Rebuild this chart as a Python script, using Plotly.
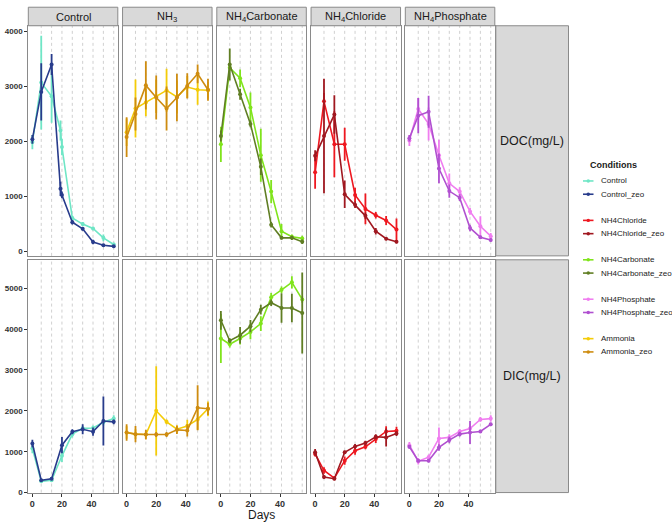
import plotly.graph_objects as go

W, H = 672, 526

# ---------------- data ----------------
days = [0, 6, 13, 20, 27, 34, 41, 48, 55]
days_ctrl_doc = [0, 6, 13, 19, 20, 27, 34, 41, 48, 55]
sample_days = [6, 13, 20, 27, 34, 41, 48, 55]

panel_titles = ["Control", "NH<sub>3</sub>", "NH<sub>4</sub>Carbonate",
                "NH<sub>4</sub>Chloride", "NH<sub>4</sub>Phosphate"]
panel_series = [["Control", "Control_zeo"],
                ["Ammonia", "Ammonia_zeo"],
                ["NH4Carbonate", "NH4Carbonate_zeo"],
                ["NH4Chloride", "NH4Chloride_zeo"],
                ["NH4Phosphate", "NH4Phosphate_zeo"]]
row_labels = ["DOC(mg/L)", "DIC(mg/L)"]

legend_order = ["Control", "Control_zeo", None,
                "NH4Chloride", "NH4Chloride_zeo", None,
                "NH4Carbonate", "NH4Carbonate_zeo", None,
                "NH4Phosphate", "NH4Phosphate_zeo", None,
                "Ammonia", "Ammonia_zeo"]

colors = {
    "Control": "#6FE6C6", "Control_zeo": "#283C8C",
    "NH4Chloride": "#EE1820", "NH4Chloride_zeo": "#A01820",
    "NH4Carbonate": "#80E41C", "NH4Carbonate_zeo": "#607E24",
    "NH4Phosphate": "#F07EF0", "NH4Phosphate_zeo": "#B050D0",
    "Ammonia": "#F4CC08", "Ammonia_zeo": "#CE8C10",
}

DOC = {
    "Control": [1990, 3070, 2820, 2200, 1900, 610, 500, 420, 250, 130],
    "Control_zeo": [2040, 2900, 3400, 1140, 1030, 534, 414, 175, 115, 95],
    "Ammonia": [2170, 2600, 2710, 2820, 2930, 2810, 2990, 2940, 2930],
    "Ammonia_zeo": [2080, 2500, 3020, 2800, 2600, 2800, 3010, 3230, 2940],
    "NH4Carbonate": [1950, 3340, 3150, 2620, 1750, 1090, 370, 270, 240],
    "NH4Carbonate_zeo": [2100, 3400, 2860, 2320, 1540, 490, 250, 250, 180],
    "NH4Chloride": [1440, 2730, 1950, 1950, 1030, 775, 660, 565, 400],
    "NH4Chloride_zeo": [1740, 2100, 2490, 1040, 850, 650, 370, 235, 180],
    "NH4Phosphate": [2020, 2590, 2320, 1750, 1240, 1090, 730, 460, 280],
    "NH4Phosphate_zeo": [2060, 2470, 2540, 1510, 1100, 980, 430, 260, 210],
}
DOC_SE = {
    "Control": [130, 850, 480, 180, 150, 40, 40, 30, 60, 30],
    "Control_zeo": [80, 520, 190, 130, 60, 40, 30, 40, 20, 20],
    "Ammonia": [250, 525, 250, 300, 390, 300, 200, 270, 150],
    "Ammonia_zeo": [360, 300, 440, 400, 400, 430, 230, 170, 200],
    "NH4Carbonate": [320, 60, 160, 270, 480, 210, 130, 40, 50],
    "NH4Carbonate_zeo": [100, 290, 100, 60, 150, 50, 30, 40, 40],
    "NH4Chloride": [300, 150, 600, 300, 130, 280, 60, 80, 200],
    "NH4Chloride_zeo": [100, 1040, 350, 250, 60, 60, 60, 30, 30],
    "NH4Phosphate": [100, 200, 300, 280, 180, 80, 60, 180, 60],
    "NH4Phosphate_zeo": [60, 320, 290, 270, 120, 60, 60, 30, 30],
}
DIC = {
    "Control": [1080, 275, 300, 900, 1430, 1570, 1580, 1720, 1810],
    "Control_zeo": [1200, 300, 340, 1160, 1490, 1550, 1490, 1750, 1730],
    "Ammonia": [1470, 1430, 1420, 2000, 1730, 1550, 1630, 1790, 2050],
    "Ammonia_zeo": [1470, 1430, 1420, 1420, 1420, 1535, 1520, 2075, 2050],
    "NH4Carbonate": [3770, 3630, 3770, 3930, 4135, 4780, 4960, 5145, 4725],
    "NH4Carbonate_zeo": [4215, 3715, 3850, 4070, 4475, 4645, 4515, 4515, 4395],
    "NH4Chloride": [945, 540, 355, 780, 1025, 1120, 1310, 1495, 1510],
    "NH4Chloride_zeo": [985, 380, 340, 985, 1130, 1210, 1365, 1350, 1445],
    "NH4Phosphate": [1160, 765, 865, 1325, 1350, 1495, 1565, 1790, 1810],
    "NH4Phosphate_zeo": [1120, 780, 780, 1105, 1285, 1430, 1470, 1495, 1670],
}
DIC_SE = {
    "Control": [120, 40, 40, 150, 80, 60, 60, 80, 80],
    "Control_zeo": [90, 30, 40, 200, 60, 120, 100, 600, 60],
    "Ammonia": [150, 120, 100, 1090, 60, 100, 150, 250, 180],
    "Ammonia_zeo": [200, 200, 120, 60, 60, 100, 150, 550, 150],
    "NH4Carbonate": [600, 80, 150, 180, 180, 100, 80, 150, 80],
    "NH4Carbonate_zeo": [230, 60, 200, 150, 120, 80, 360, 350, 990],
    "NH4Chloride": [60, 80, 40, 100, 100, 60, 100, 130, 100],
    "NH4Chloride_zeo": [80, 40, 40, 40, 60, 60, 60, 220, 60],
    "NH4Phosphate": [80, 80, 60, 270, 80, 60, 60, 60, 80],
    "NH4Phosphate_zeo": [40, 40, 40, 80, 80, 60, 280, 40, 40],
}

doc_ticks = [0, 1000, 2000, 3000, 4000]
dic_ticks = [0, 1000, 2000, 3000, 4000, 5000]
x_ticks = [0, 20, 40]

# ---------------- layout geometry (pixels) ----------------
FONT = "Liberation Sans, Arial, sans-serif"
col_left = [28.3 + 94.25 * i for i in range(5)]
col_w = 89.5
rows_px = [(26.0, 258.3), (262.3, 497.3)]
strip_top = 7.3
right_strip = (495.8, 568.5)
border = "#8a8a8a"


def fx(px):
    return px / W


def fy(py):
    return 1 - py / H


def note(text, px, py, size, xanchor="center", weight="normal", color="#1a1a1a"):
    return dict(text=text, xref="paper", yref="paper", x=fx(px), y=fy(py),
                xanchor=xanchor, yanchor="middle", showarrow=False,
                font=dict(size=size, color=color, family=FONT, weight=weight))


fig = go.Figure()
layout = dict(
    width=W, height=H, margin=dict(l=0, r=0, t=0, b=0),
    paper_bgcolor="white", plot_bgcolor="white", showlegend=False,
    font=dict(family=FONT, color="#1a1a1a"),
)
shapes = []
annotations = []

for r in range(2):
    data = DOC if r == 0 else DIC
    se = DOC_SE if r == 0 else DIC_SE
    yr = [-77, 4103] if r == 0 else [0, 5695]
    yt = doc_ticks if r == 0 else dic_ticks
    top, bot = rows_px[r]
    for c in range(5):
        n = r * 5 + c + 1
        xa = "x" if n == 1 else f"x{n}"
        ya = "y" if n == 1 else f"y{n}"
        layout["xaxis" if n == 1 else f"xaxis{n}"] = dict(
            domain=[fx(col_left[c]), fx(col_left[c] + col_w)], anchor=ya,
            range=[-2.75, 57.75], tickvals=x_ticks, showgrid=False, zeroline=False,
            showline=True, mirror=True, linecolor=border, linewidth=1.2,
            showticklabels=(r == 1), ticks="outside" if r == 1 else "",
            ticklen=3, tickcolor="#333333", tickwidth=1,
            tickfont=dict(size=9, color="#333333", family=FONT, weight="bold"),
        )
        layout["yaxis" if n == 1 else f"yaxis{n}"] = dict(
            domain=[fy(bot), fy(top)], anchor=xa, range=yr, tickvals=yt,
            showgrid=False, zeroline=False, showline=True, mirror=True,
            linecolor=border, linewidth=1.2,
            showticklabels=(c == 0), ticks="outside" if c == 0 else "",
            ticklen=3, tickcolor="#333333", tickwidth=1,
            tickfont=dict(size=8, color="#333333", family=FONT, weight="bold"),
        )
        for d in sample_days:
            shapes.append(dict(type="line", xref=xa, yref=f"{ya} domain",
                               x0=d, x1=d, y0=0, y1=1, layer="below",
                               line=dict(color="#c4c4c4", width=0.8, dash="dot")))
        for s in panel_series[c]:
            xs = days_ctrl_doc if (r == 0 and s.startswith("Control")) else days
            fig.add_trace(go.Scatter(
                x=xs, y=data[s], xaxis=xa, yaxis=ya, mode="lines+markers",
                name=s, line=dict(color=colors[s], width=1.6),
                marker=dict(color=colors[s], size=4),
                error_y=dict(type="data", array=se[s], visible=True, width=0,
                             thickness=1.8, color=colors[s]),
                hoverinfo="x+y+name",
            ))
    # right strip
    shapes.append(dict(type="rect", xref="paper", yref="paper",
                       x0=fx(right_strip[0]), x1=fx(right_strip[1]),
                       y0=fy(bot), y1=fy(top), fillcolor="#d9d9d9",
                       line=dict(color=border, width=1)))
    annotations.append(note(row_labels[r], (right_strip[0] + right_strip[1]) / 2,
                            (top + bot) / 2, 12.5))

# top strips
for c in range(5):
    shapes.append(dict(type="rect", xref="paper", yref="paper",
                       x0=fx(col_left[c]), x1=fx(col_left[c] + col_w),
                       y0=fy(rows_px[0][0]), y1=fy(strip_top), fillcolor="#d9d9d9",
                       line=dict(color=border, width=1)))
    annotations.append(note(panel_titles[c], col_left[c] + col_w / 2,
                            (strip_top + rows_px[0][0]) / 2 + 0.5, 11))

# x title
annotations.append(note("Days", (col_left[0] + col_left[4] + col_w) / 2, 519.5, 12))

# legend (drawn manually)
annotations.append(note("Conditions", 613, 167, 9, weight="bold"))
ly = 182.7
for s in legend_order:
    if s is None:
        ly += 13.0
        continue
    shapes.append(dict(type="line", xref="paper", yref="paper",
                       x0=fx(583), x1=fx(593.5), y0=fy(ly), y1=fy(ly),
                       line=dict(color=colors[s], width=1.6)))
    shapes.append(dict(type="circle", xref="paper", yref="paper",
                       x0=fx(586.5), x1=fx(590), y0=fy(ly - 1.75), y1=fy(ly + 1.75),
                       fillcolor=colors[s], line=dict(color=colors[s], width=0)))
    annotations.append(note(s, 599, ly, 8, xanchor="left"))
    ly += 13.4

layout["shapes"] = shapes
layout["annotations"] = annotations
fig.update_layout(**layout)
fig.write_html("out.html")
